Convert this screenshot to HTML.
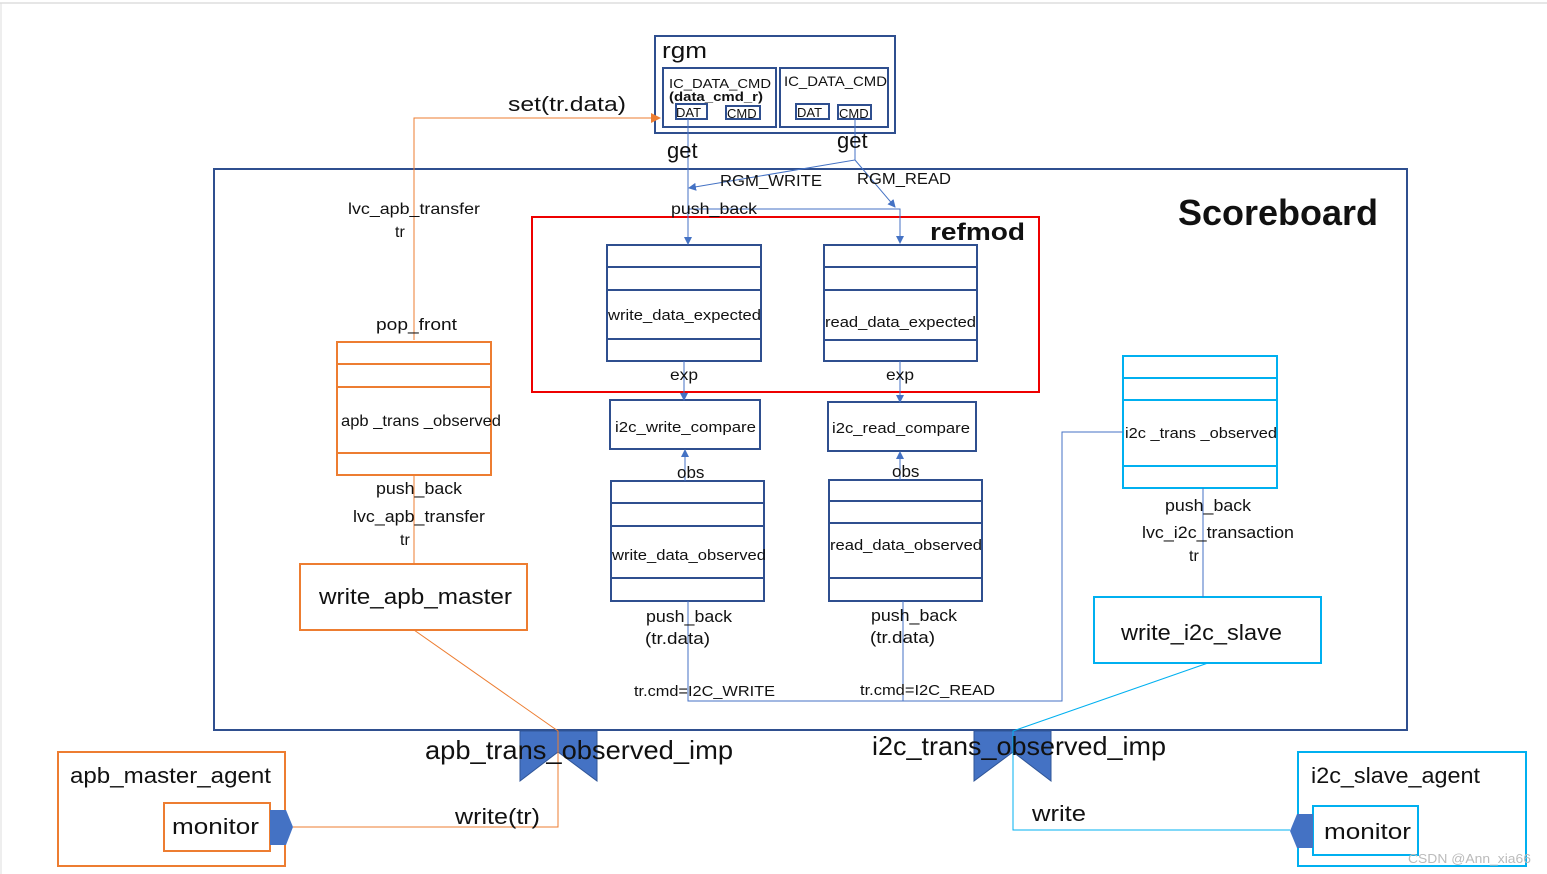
<!DOCTYPE html>
<html><head><meta charset="utf-8"><style>
html,body{margin:0;padding:0;background:#fff;}
svg{display:block;font-family:"Liberation Sans","Noto Sans CJK SC",sans-serif;}
</style></head><body>
<svg width="1547" height="874" viewBox="0 0 1547 874" xmlns="http://www.w3.org/2000/svg">
<defs>
<marker id="ab" markerWidth="8" markerHeight="8" refX="7" refY="4" orient="auto" markerUnits="userSpaceOnUse"><path d="M0,0 L8,4 L0,8 z" fill="#4472C4"/></marker>
<marker id="ao" markerWidth="10" markerHeight="10" refX="9" refY="5" orient="auto" markerUnits="userSpaceOnUse"><path d="M0,0 L10,5 L0,10 z" fill="#ED7D31"/></marker>
</defs>
<line x1="0" y1="3" x2="1547" y2="3" stroke="#ccc"/>
<line x1="1" y1="3" x2="1" y2="874" stroke="#ddd"/>
<g fill="none" stroke="#2F4F8F" stroke-width="2">
<rect x="655" y="36" width="240" height="97"/>
<rect x="663" y="68" width="113" height="59"/>
<rect x="780" y="68" width="108" height="59"/>
<rect x="676" y="104" width="31" height="15"/>
<rect x="726" y="106" width="34" height="13"/>
<rect x="796" y="104" width="33" height="15"/>
<rect x="838" y="105" width="33" height="14"/>
<rect x="214" y="169" width="1193" height="561"/>
<rect x="607" y="245" width="154" height="116"/>
<line x1="607" y1="267" x2="761" y2="267"/><line x1="607" y1="290" x2="761" y2="290"/><line x1="607" y1="339" x2="761" y2="339"/>
<rect x="824" y="245" width="153" height="116"/>
<line x1="824" y1="267" x2="977" y2="267"/><line x1="824" y1="290" x2="977" y2="290"/><line x1="824" y1="340" x2="977" y2="340"/>
<rect x="610" y="400" width="150" height="49"/>
<rect x="828" y="402" width="148" height="49"/>
<rect x="611" y="481" width="153" height="120"/>
<line x1="611" y1="503" x2="764" y2="503"/><line x1="611" y1="526" x2="764" y2="526"/><line x1="611" y1="578" x2="764" y2="578"/>
<rect x="829" y="480" width="153" height="121"/>
<line x1="829" y1="501" x2="982" y2="501"/><line x1="829" y1="523" x2="982" y2="523"/><line x1="829" y1="578" x2="982" y2="578"/>
</g>
<rect x="532" y="217" width="507" height="175" fill="none" stroke="#E00" stroke-width="2"/>
<g fill="none" stroke="#ED7D31" stroke-width="2">
<rect x="337" y="342" width="154" height="133"/>
<line x1="337" y1="364" x2="491" y2="364"/><line x1="337" y1="387" x2="491" y2="387"/><line x1="337" y1="453" x2="491" y2="453"/>
<rect x="300" y="564" width="227" height="66"/>
<rect x="58" y="752" width="227" height="114"/>
<rect x="164" y="803" width="106" height="48"/>
</g>
<g fill="none" stroke="#00B0F0" stroke-width="2">
<rect x="1123" y="356" width="154" height="132"/>
<line x1="1123" y1="378" x2="1277" y2="378"/><line x1="1123" y1="400" x2="1277" y2="400"/><line x1="1123" y1="466" x2="1277" y2="466"/>
<rect x="1094" y="597" width="227" height="66"/>
<rect x="1298" y="752" width="228" height="114"/>
<rect x="1313" y="806" width="105" height="49"/>
</g>
<polygon points="520,731 597,731 597,781 558,752 520,781" fill="#4472C4" stroke="#2F5597"/>
<polygon points="974,731 1051,731 1051,781 1013,752 974,781" fill="#4472C4" stroke="#2F5597"/>
<polygon points="270,810 286,810 293,827 286,845 270,845" fill="#4472C4"/>
<polygon points="1313,814 1297,814 1290,831 1297,848 1313,848" fill="#4472C4"/>
<g fill="none" stroke="#ED7D31" stroke-width="1">
<polyline points="414,340 414,118 660,118" marker-end="url(#ao)"/>
<line x1="414" y1="475" x2="414" y2="564"/>
<polyline points="414,630 558,731 558,827 293,827"/>
</g>
<g fill="none" stroke="#00B0F0" stroke-width="1">
<polyline points="1208,663 1013,731 1013,830 1290,830"/>
</g>
<g fill="none" stroke="#4472C4" stroke-width="1">
<line x1="688" y1="119" x2="688" y2="244" marker-end="url(#ab)"/>
<polyline points="855,119 855,160 689,188" marker-end="url(#ab)"/>
<line x1="855" y1="160" x2="895" y2="207" marker-end="url(#ab)"/>
<polyline points="688,209 900,209 900,243" marker-end="url(#ab)"/>
<line x1="684" y1="361" x2="684" y2="400" marker-end="url(#ab)"/>
<line x1="900" y1="361" x2="900" y2="402" marker-end="url(#ab)"/>
<line x1="685" y1="481" x2="685" y2="450" marker-end="url(#ab)"/>
<line x1="900" y1="480" x2="900" y2="452" marker-end="url(#ab)"/>
<polyline points="688,601 688,701 1062,701 1062,432 1123,432"/>
<line x1="903" y1="601" x2="903" y2="701"/>
<line x1="1203" y1="488" x2="1203" y2="597"/>
</g>
<g fill="#111" lengthAdjust="spacingAndGlyphs">
<text x="662" y="58" font-size="22" textLength="45" lengthAdjust="spacingAndGlyphs">rgm</text>
<text x="669" y="88" font-size="13" textLength="102" lengthAdjust="spacingAndGlyphs">IC_DATA_CMD</text>
<text x="669" y="101" font-size="13" font-weight="bold" textLength="94" lengthAdjust="spacingAndGlyphs">(data_cmd_r)</text>
<text x="676" y="117" font-size="13">DAT</text>
<text x="727" y="118" font-size="13">CMD</text>
<text x="784" y="86" font-size="14" textLength="103" lengthAdjust="spacingAndGlyphs">IC_DATA_CMD</text>
<text x="797" y="117" font-size="13">DAT</text>
<text x="839" y="118" font-size="13">CMD</text>
<text x="508" y="111" font-size="20" textLength="118" lengthAdjust="spacingAndGlyphs">set(tr.data)</text>
<text x="667" y="158" font-size="22">get</text>
<text x="837" y="148" font-size="22">get</text>
<text x="720" y="186" font-size="16" textLength="102" lengthAdjust="spacingAndGlyphs">RGM_WRITE</text>
<text x="857" y="184" font-size="16" textLength="94" lengthAdjust="spacingAndGlyphs">RGM_READ</text>
<text x="671" y="214" font-size="16" textLength="86" lengthAdjust="spacingAndGlyphs">push_back</text>
<text x="1178" y="225" font-size="36" font-weight="bold" textLength="200" lengthAdjust="spacingAndGlyphs">Scoreboard</text>
<text x="930" y="240" font-size="24" font-weight="bold" textLength="95" lengthAdjust="spacingAndGlyphs">refmod</text>
<text x="348" y="214" font-size="16" textLength="132" lengthAdjust="spacingAndGlyphs">lvc_apb_transfer</text>
<text x="395" y="237" font-size="16">tr</text>
<text x="376" y="330" font-size="17" textLength="81" lengthAdjust="spacingAndGlyphs">pop_front</text>
<text x="341" y="426" font-size="16" textLength="160" lengthAdjust="spacingAndGlyphs">apb _trans _observed</text>
<text x="376" y="494" font-size="17" textLength="86" lengthAdjust="spacingAndGlyphs">push_back</text>
<text x="353" y="522" font-size="17" textLength="132" lengthAdjust="spacingAndGlyphs">lvc_apb_transfer</text>
<text x="400" y="545" font-size="16">tr</text>
<text x="319" y="604" font-size="22" textLength="193" lengthAdjust="spacingAndGlyphs">write_apb_master</text>
<text x="608" y="320" font-size="15" textLength="153" lengthAdjust="spacingAndGlyphs">write_data_expected</text>
<text x="825" y="327" font-size="15" textLength="151" lengthAdjust="spacingAndGlyphs">read_data_expected</text>
<text x="670" y="380" font-size="16" textLength="28" lengthAdjust="spacingAndGlyphs">exp</text>
<text x="886" y="380" font-size="16" textLength="28" lengthAdjust="spacingAndGlyphs">exp</text>
<text x="615" y="432" font-size="15" textLength="141" lengthAdjust="spacingAndGlyphs">i2c_write_compare</text>
<text x="832" y="433" font-size="15" textLength="138" lengthAdjust="spacingAndGlyphs">i2c_read_compare</text>
<text x="677" y="478" font-size="17">obs</text>
<text x="892" y="477" font-size="17">obs</text>
<text x="612" y="560" font-size="15" textLength="154" lengthAdjust="spacingAndGlyphs">write_data_observed</text>
<text x="830" y="550" font-size="15" textLength="152" lengthAdjust="spacingAndGlyphs">read_data_observed</text>
<text x="646" y="622" font-size="17" textLength="86" lengthAdjust="spacingAndGlyphs">push_back</text>
<text x="645" y="644" font-size="17" textLength="65" lengthAdjust="spacingAndGlyphs">(tr.data)</text>
<text x="871" y="621" font-size="17" textLength="86" lengthAdjust="spacingAndGlyphs">push_back</text>
<text x="870" y="643" font-size="17" textLength="65" lengthAdjust="spacingAndGlyphs">(tr.data)</text>
<text x="634" y="696" font-size="15" textLength="141" lengthAdjust="spacingAndGlyphs">tr.cmd=I2C_WRITE</text>
<text x="860" y="695" font-size="15" textLength="135" lengthAdjust="spacingAndGlyphs">tr.cmd=I2C_READ</text>
<text x="1125" y="438" font-size="15" textLength="152" lengthAdjust="spacingAndGlyphs">i2c _trans _observed</text>
<text x="1165" y="511" font-size="17" textLength="86" lengthAdjust="spacingAndGlyphs">push_back</text>
<text x="1142" y="538" font-size="17" textLength="152" lengthAdjust="spacingAndGlyphs">lvc_i2c_transaction</text>
<text x="1189" y="561" font-size="16">tr</text>
<text x="1121" y="640" font-size="22" textLength="161" lengthAdjust="spacingAndGlyphs">write_i2c_slave</text>
<text x="425" y="759" font-size="26" textLength="308" lengthAdjust="spacingAndGlyphs">apb_trans_observed_imp</text>
<text x="872" y="755" font-size="26" textLength="294" lengthAdjust="spacingAndGlyphs">i2c_trans_observed_imp</text>
<text x="70" y="783" font-size="22" textLength="201" lengthAdjust="spacingAndGlyphs">apb_master_agent</text>
<text x="172" y="834" font-size="22" textLength="87" lengthAdjust="spacingAndGlyphs">monitor</text>
<text x="455" y="824" font-size="22" textLength="85" lengthAdjust="spacingAndGlyphs">write(tr)</text>
<text x="1032" y="821" font-size="22" textLength="54" lengthAdjust="spacingAndGlyphs">write</text>
<text x="1311" y="783" font-size="22" textLength="169" lengthAdjust="spacingAndGlyphs">i2c_slave_agent</text>
<text x="1324" y="839" font-size="22" textLength="87" lengthAdjust="spacingAndGlyphs">monitor</text>
<text x="1408" y="863" font-size="13" fill="#bbb" textLength="123" lengthAdjust="spacingAndGlyphs">CSDN @Ann_xia66</text>
</g>
</svg>
</body></html>
